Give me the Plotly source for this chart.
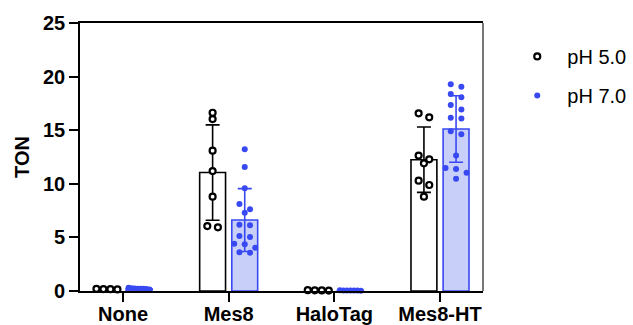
import plotly.graph_objects as go

categories = ["None", "Mes8", "HaloTag", "Mes8-HT"]

# bar heights (means) and standard deviations
mean_ph5 = [0.17, 11.05, 0.06, 12.25]
sd_ph5 = [0.04, 4.45, 0.02, 3.05]
mean_ph7 = [0.21, 6.62, 0.05, 15.11]
sd_ph7 = [0.05, 2.93, 0.02, 3.10]

# individual replicate points
pts_ph5 = [
    [0.15, 0.20, 0.18, 0.17],
    [16.63, 16.04, 13.09, 11.19, 8.80, 5.94, 6.06],
    [0.05, 0.08, 0.06, 0.04],
    [16.57, 16.20, 12.63, 12.28, 11.91, 10.29, 9.89, 8.80],
]
pts_ph7 = [
    [0.20, 0.25, 0.15, 0.22, 0.30, 0.18, 0.20, 0.24],
    [13.22, 11.57, 9.58, 8.12, 7.62, 7.31, 6.19, 6.13, 5.13, 5.04, 4.41, 4.35, 4.04, 3.57, 3.61],
    [0.03, 0.05, 0.04, 0.06, 0.05, 0.04, 0.05],
    [19.28, 19.06, 18.38, 18.07, 17.35, 16.94, 16.17, 16.08, 14.90, 14.62, 12.63, 11.47, 11.38, 11.03, 10.47],
]

BLUE = "#3949F2"
BLUE_FILL = "#C8D0FA"
FONT = "Arial, 'Liberation Sans', sans-serif"

X_RANGE = [-0.407, 3.407]
PLOT_W = 403  # px of plot area
PX = (X_RANGE[1] - X_RANGE[0]) / PLOT_W  # data units per px
OFFSET = 0.152
BAR_W = 0.245


def swarm(values, center, row_h=0.5, step_px=10.6, max_spread_px=21):
    """Arrange points in rows (GraphPad-like scatter) around center."""
    order = sorted(range(len(values)), key=lambda i: -values[i])
    rows, cur = [], []
    for i in order:
        if cur and values[cur[0]] - values[i] >= row_h:
            rows.append(cur)
            cur = []
        cur.append(i)
    if cur:
        rows.append(cur)
    xs = [0.0] * len(values)
    for row in rows:
        n = len(row)
        step = step_px
        if n > 1 and (n - 1) * step > max_spread_px:
            step = max_spread_px / (n - 1)
        for k, i in enumerate(row):
            xs[i] = center + (k - (n - 1) / 2) * step * PX
    return xs


fig = go.Figure()

xs5 = [i - OFFSET for i in range(len(categories))]
xs7 = [i + OFFSET for i in range(len(categories))]

fig.add_trace(go.Bar(
    x=xs5, y=mean_ph5, width=BAR_W, showlegend=False,
    marker=dict(color="white", line=dict(color="black", width=1.6)),
    error_y=dict(type="data", array=sd_ph5, color="black", thickness=1.6, width=7),
))
fig.add_trace(go.Bar(
    x=xs7, y=mean_ph7, width=BAR_W, showlegend=False,
    marker=dict(color=BLUE_FILL, line=dict(color=BLUE, width=1.6)),
    error_y=dict(type="data", array=sd_ph7, color=BLUE, thickness=1.6, width=7),
))

px5, py5, px7, py7 = [], [], [], []
for i in range(len(categories)):
    px5 += swarm(pts_ph5[i], xs5[i])
    py5 += pts_ph5[i]
    px7 += swarm(pts_ph7[i], xs7[i])
    py7 += pts_ph7[i]

fig.add_trace(go.Scatter(
    x=px5, y=py5, mode="markers", name="\u2002pH 5.0", cliponaxis=False,
    legendgroup="a",
    marker=dict(symbol="circle", size=6, color="white", line=dict(color="black", width=2.2)),
))
fig.add_trace(go.Scatter(
    x=px7, y=py7, mode="markers", name="\u2002pH 7.0", cliponaxis=False,
    legendgroup="b",
    marker=dict(symbol="circle", size=6, color=BLUE, line=dict(width=0)),
))

fig.add_shape(type="line", xref="paper", yref="paper", x0=1, x1=1, y0=0, y1=1,
              line=dict(color="#555555", width=1.6))

fig.update_layout(
    width=633, height=325,
    margin=dict(l=80, r=150, t=23, b=34, autoexpand=False),
    paper_bgcolor="white", plot_bgcolor="white",
    font=dict(family=FONT, color="black", size=20),
    barmode="overlay",
    legend=dict(x=1.085, y=0.948, xanchor="left", yanchor="top",
                font=dict(size=20, family=FONT), tracegroupgap=10,
                bgcolor="rgba(0,0,0,0)"),
    xaxis=dict(
        range=X_RANGE, tickvals=list(range(len(categories))), ticktext=categories,
        showline=True, linecolor="black", linewidth=1.6, mirror=True,
        ticks="outside", ticklen=9, tickwidth=1.6, tickcolor="black",
        tickfont=dict(size=20, family=FONT, weight="bold"),
        ticklabelstandoff=-5,
        showgrid=False, zeroline=False, automargin=False,
    ),
    yaxis=dict(
        range=[0, 25], tickvals=[0, 5, 10, 15, 20, 25],
        showline=True, linecolor="black", linewidth=1.6,
        ticks="outside", ticklen=9, tickwidth=1.6, tickcolor="black",
        tickfont=dict(size=20, family=FONT, weight="bold"),
        title=dict(text="TON", font=dict(size=20, family=FONT, weight="bold"), standoff=8),
        showgrid=False, zeroline=False, automargin=False,
    ),
)

fig.write_html("out.html")
